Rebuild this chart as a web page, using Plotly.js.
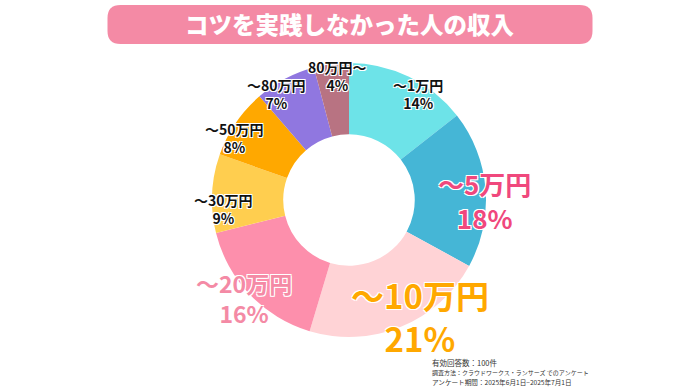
<!DOCTYPE html>
<html>
<head>
<meta charset="utf-8">
<script src="https://cdn.plot.ly/plotly-3.0.1.min.js"></script>
<style>html,body{margin:0;padding:0;background:#fff;}#chart{width:700px;height:390px;}</style>
</head>
<body>
<div id="chart"></div>
<script>
// ---- data ----
const categories = ["〜1万円", "〜5万円", "〜10万円", "〜20万円", "〜30万円", "〜50万円", "〜80万円", "80万円〜"];
const percents = [14, 18, 21, 16, 9, 8, 7, 4];
const sliceColors = ["#6de3e8", "#45b6d6", "#ffd3d6", "#fd8fac", "#ffce4f", "#ffa800", "#9077e0", "#b87382"];
const titleText = "コツを実践しなかった人の収入";
const footnotes = ["有効回答数：100件", "調査方法：クラウドワークス・ランサーズ でのアンケート", "アンケート期間：2025年6月1日−2025年7月1日"];

// ---- label styling / placement (layout only) ----
const W = 700, H = 390;
const FONT = "Noto Sans CJK JP, sans-serif";
const labelStyle = [
  {x: 418, y: 93.5, size: 14, color: "#111"},
  {x: 484, y: 201, size: 26, color: "#f0487d"},
  {x: 420, y: 316.5, size: 33, color: "#ffa800"},
  {x: 244, y: 297.5, size: 23, color: "#f48aa5"},
  {x: 223, y: 209, size: 14, color: "#111"},
  {x: 235, y: 138, size: 14, color: "#111"},
  {x: 276, y: 94, size: 14, color: "#111"},
  {x: 337, y: 76, size: 14, color: "#111"}
];
const outline = "1px 1px 0 #fff, -1px -1px 0 #fff, 1px -1px 0 #fff, -1px 1px 0 #fff";

const annotations = [];
categories.forEach((c, i) => {
  const s = labelStyle[i];
  annotations.push({
    text: c + "<br>" + percents[i] + "%",
    x: s.x / W, y: 1 - s.y / H, xref: "paper", yref: "paper",
    showarrow: false, xanchor: "center", yanchor: "middle", align: "center",
    font: {family: FONT, size: s.size, color: s.color, weight: 700, shadow: outline}
  });
});
annotations.push({text: titleText, x: 350 / W, y: 1 - 24 / H, xref: "paper", yref: "paper", showarrow: false, xanchor: "center", yanchor: "middle", font: {family: FONT, size: 23.5, color: "#fff", weight: 900}});
const footSizes = [7.5, 6, 6.6];
footnotes.forEach((t, i) => {
  annotations.push({text: t, x: 430 / W, y: 1 - (362 + i * 10) / H, xref: "paper", yref: "paper", showarrow: false, xanchor: "left", yanchor: "middle", font: {family: FONT, size: footSizes[i], color: "#333"}});
});

// rounded rectangle title box in pixel units around anchor
const bw = 242.5, bh = 19.5, r = 13;
const boxPath = `M ${-bw + r},${-bh} L ${bw - r},${-bh} Q ${bw},${-bh} ${bw},${-bh + r} L ${bw},${bh - r} Q ${bw},${bh} ${bw - r},${bh} L ${-bw + r},${bh} Q ${-bw},${bh} ${-bw},${bh - r} L ${-bw},${-bh + r} Q ${-bw},${-bh} ${-bw + r},${-bh} Z`;

const trace = {
  type: "pie",
  labels: categories,
  values: percents,
  hole: 0.48,
  sort: false,
  direction: "clockwise",
  rotation: 0,
  textinfo: "none",
  hoverinfo: "label+percent",
  marker: {colors: sliceColors, line: {width: 0}},
  domain: {x: [212 / W, 486 / W], y: [1 - 337 / H, 1 - 63 / H]},
  showlegend: false
};

const layout = {
  width: W, height: H,
  margin: {l: 0, r: 0, t: 0, b: 0},
  paper_bgcolor: "#fff",
  showlegend: false,
  shapes: [{
    type: "path", xref: "paper", yref: "paper",
    xsizemode: "pixel", ysizemode: "pixel",
    xanchor: 350 / W, yanchor: 1 - 24.5 / H,
    path: boxPath,
    fillcolor: "#f48aa5", line: {width: 0}, layer: "below"
  }],
  annotations: annotations
};

Plotly.newPlot("chart", [trace], layout, {staticPlot: true, displayModeBar: false});
</script>
</body>
</html>
